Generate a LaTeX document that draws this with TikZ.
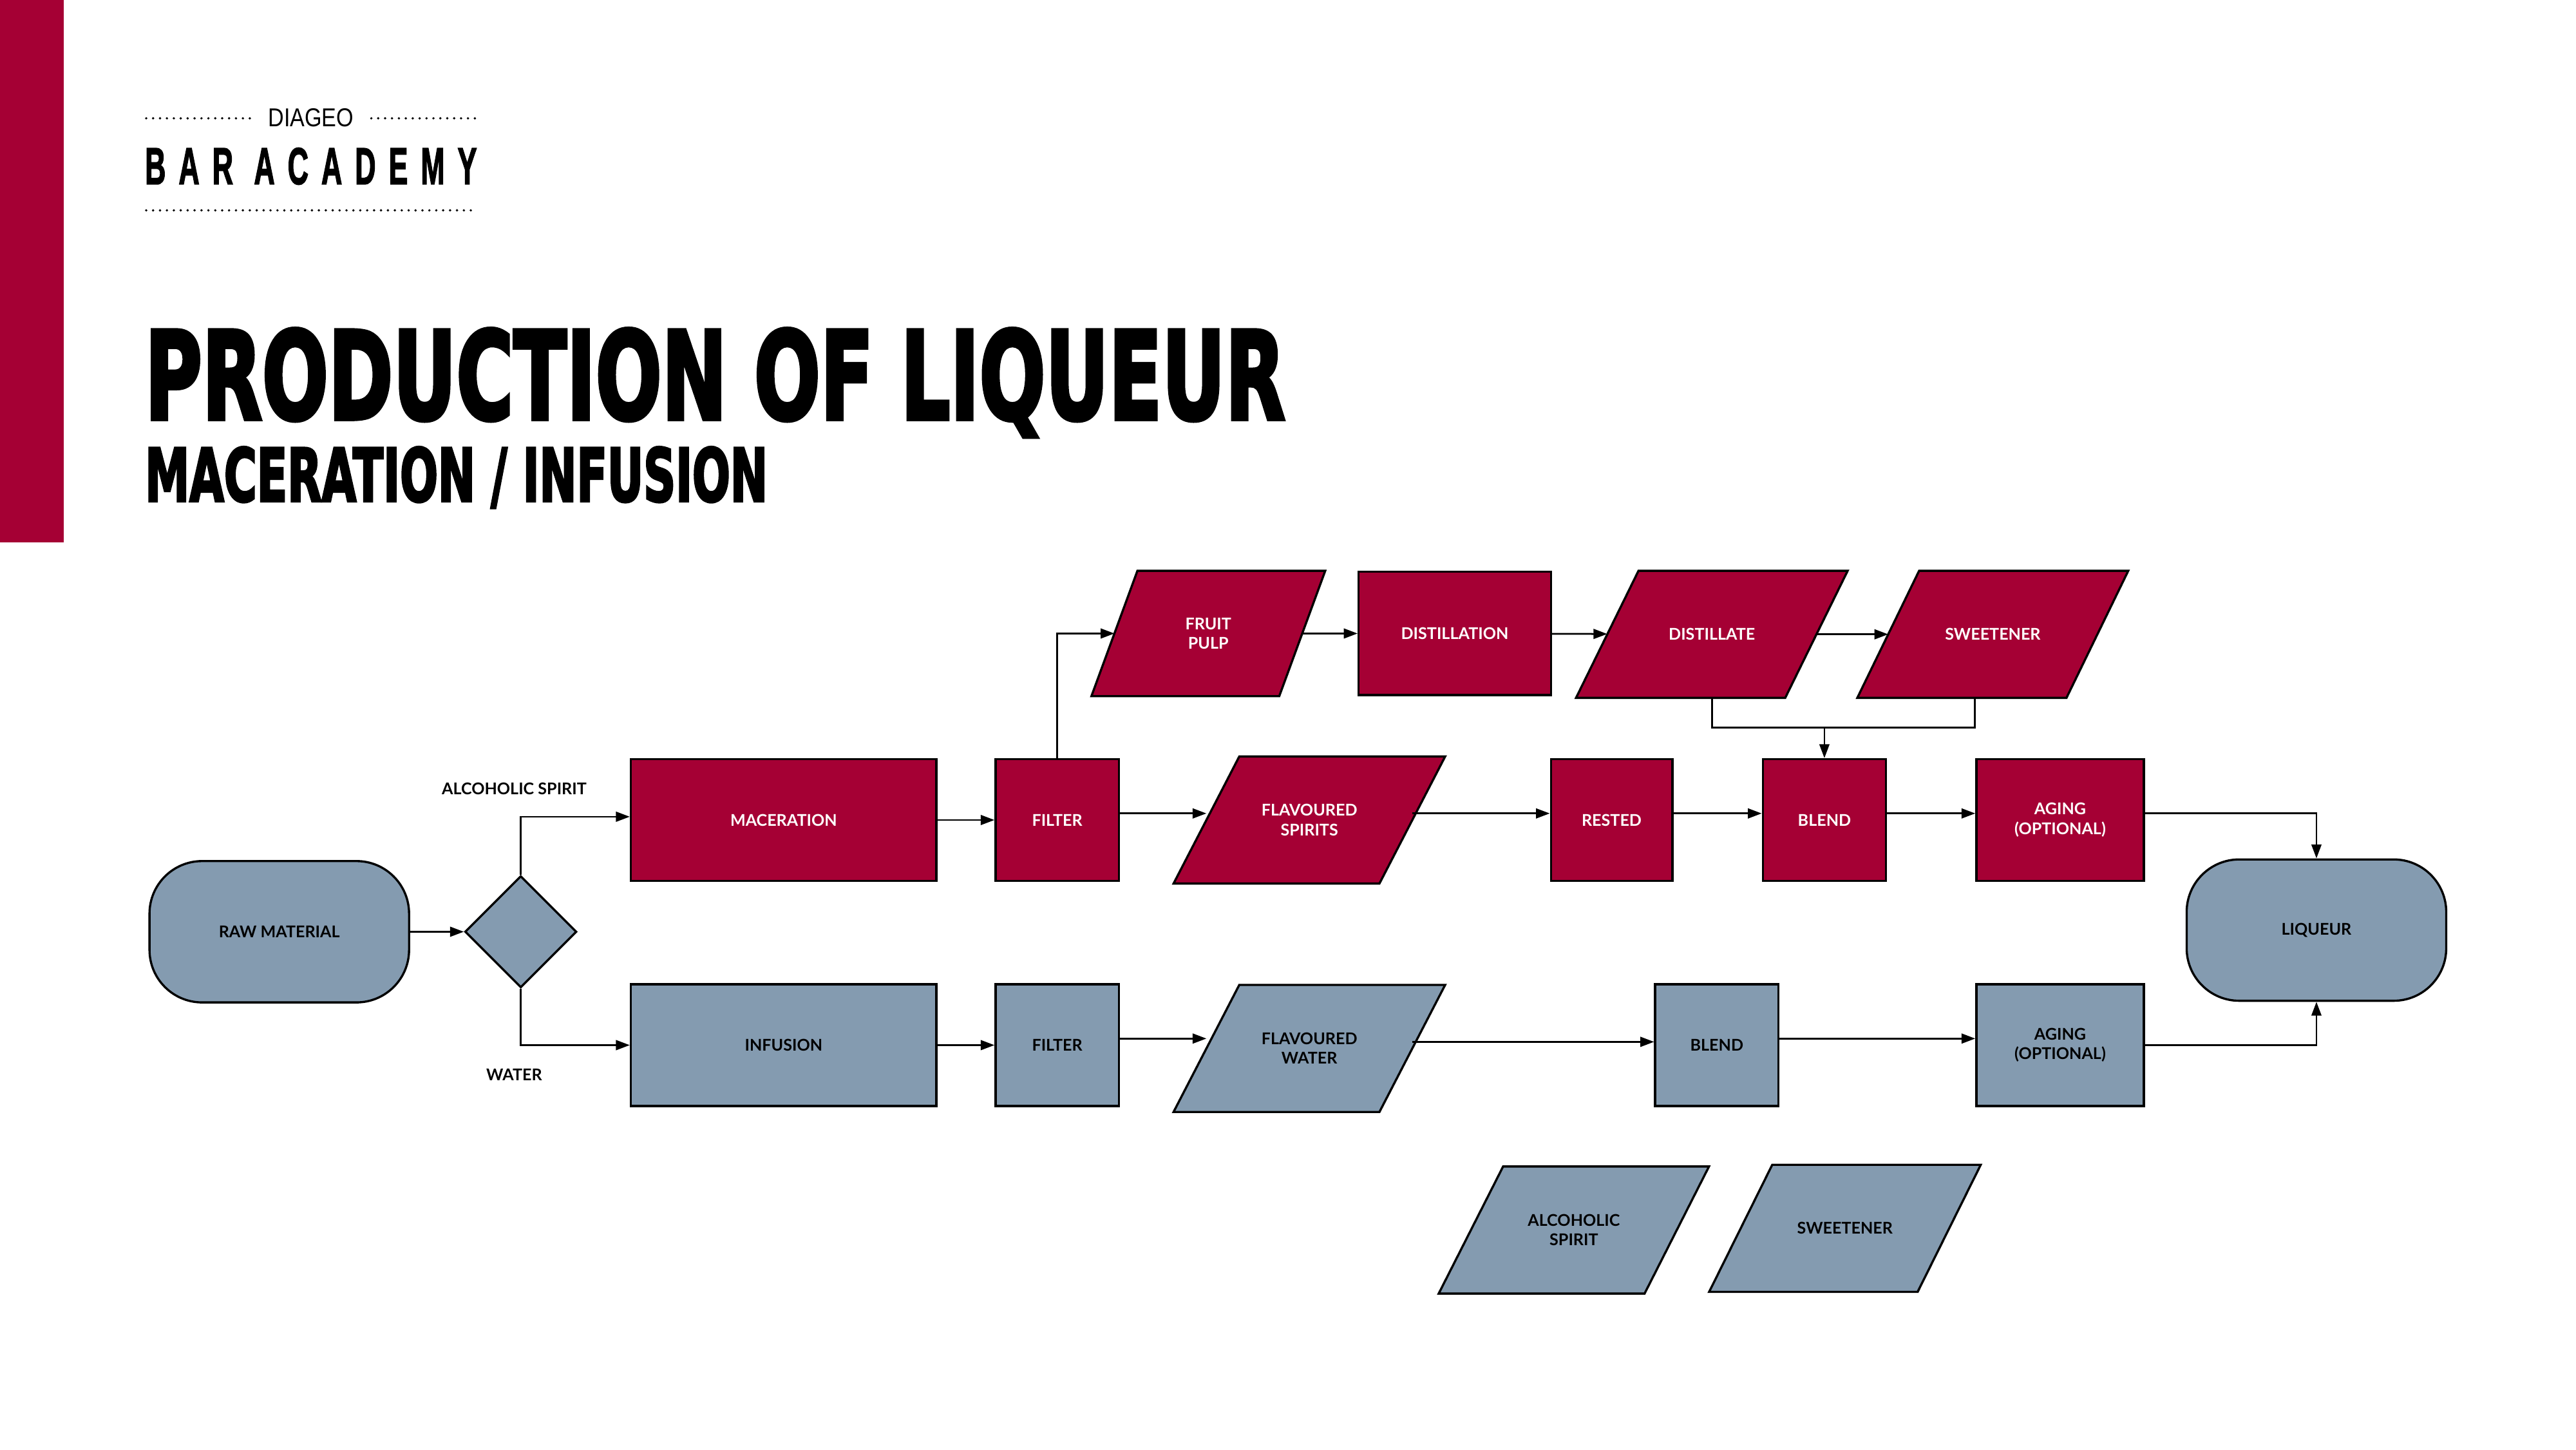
\documentclass[tikz,border=0pt]{standalone}
\usepackage{fontspec}
\setmainfont{Lato}
\newfontfamily\titlefont[FakeBold=3.5]{DejaVu Sans}
\newfontfamily\logofont{Liberation Sans}
\newfontfamily\barfont[LetterSpace=45, FakeBold=2.5]{Liberation Sans}
\usetikzlibrary{shapes.geometric,arrows.meta}
\definecolor{dgred}{RGB}{165,0,52}
\definecolor{dgblue}{RGB}{132,155,176}
\newcommand\lbl{\fontsize{7}{8.5}\selectfont\bfseries}
\newcommand\slantoff{5mm}
\makeatletter
\pgfdeclareshape{slantbox}{
  \inheritsavedanchors[from=rectangle]
  \inheritanchorborder[from=rectangle]
  \inheritanchor[from=rectangle]{center}
  \inheritanchor[from=rectangle]{north}
  \inheritanchor[from=rectangle]{south}
  \inheritanchor[from=rectangle]{east}
  \inheritanchor[from=rectangle]{west}
  \inheritanchor[from=rectangle]{text}
  \inheritanchor[from=rectangle]{base}
  \backgroundpath{
    \pgfmathsetlength\pgf@xc{\slantoff}
    \southwest \pgf@xa=\pgf@x \pgf@ya=\pgf@y
    \northeast \pgf@xb=\pgf@x \pgf@yb=\pgf@y
    \pgfpathmoveto{\pgfqpoint{\dimexpr\pgf@xa-\pgf@xc}{\pgf@ya}}
    \pgfpathlineto{\pgfqpoint{\dimexpr\pgf@xb-\pgf@xc}{\pgf@ya}}
    \pgfpathlineto{\pgfqpoint{\dimexpr\pgf@xb+\pgf@xc}{\pgf@yb}}
    \pgfpathlineto{\pgfqpoint{\dimexpr\pgf@xa+\pgf@xc}{\pgf@yb}}
    \pgfpathclose
  }
}
\makeatother
\tikzset{
  redbox/.style={draw, line width=0.33mm, fill=dgred, text=white, font=\lbl,
    minimum height=18.5mm, inner sep=0pt, align=center},
  bluebox/.style={redbox, fill=dgblue, text=black},
  paral/.style={shape=slantbox, minimum height=19mm, minimum width=31mm},
  slant off/.code={\renewcommand\slantoff{#1}},
  endbox/.style={bluebox, rounded corners=8mm, minimum width=39.5mm, minimum height=21.5mm},
  lab/.style={font=\lbl, inner sep=0pt},
  conn/.style={line width=0.27mm, -{Triangle[length=2.1mm,width=1.5mm]}},
  dots/.style={line width=1.1pt, line cap=round, dash pattern=on 0pt off 2.99pt},
}
\begin{document}
\begin{tikzpicture}[x=0.25mm, y=-0.25mm]
\useasboundingbox (0,0) rectangle (1568,882);
\fill[dgred] (0,0) rectangle (39,330); % 左侧色条
% 标题
\draw[dots] (89,72) -- (153,72);
\draw[dots] (226,72) -- (290,72);
\draw[dots] (89,128) -- (290,128);
\node[anchor=base west, inner sep=0pt] (diageo) at (163,77) {\resizebox{13mm}{2.75mm}{\logofont DIAGEO}};
\node[anchor=base west, inner sep=0pt] (academy) at (88,112) {\resizebox{50.5mm}{5.5mm}{\barfont\bfseries BAR ACADEMY}};
\node[anchor=base west, inner sep=0pt] (title) at (88,255) {\resizebox{173.5mm}{13.75mm}{\titlefont\bfseries PRODUCTION OF LIQUEUR}};
\node[anchor=base west, inner sep=0pt] (subtitle) at (88,305) {\resizebox{94.75mm}{8.25mm}{\titlefont\bfseries MACERATION / INFUSION}};
% 起点与分支
\node[endbox] (raw) at (170,567) {RAW MATERIAL};
\node[diamond, draw, line width=0.33mm, fill=dgblue, minimum width=17mm, minimum height=17mm, inner sep=0pt] (dia) at (317,567) {};
\node[lab] (lblspirit) at (313,480) {ALCOHOLIC SPIRIT};
\node[lab] (lblwater) at (313,654) {WATER};
% 上排 (红)
\node[redbox, minimum width=46.5mm] (mac) at (477,499) {MACERATION};
\node[redbox, minimum width=18.75mm] (filA) at (643.5,499) {FILTER};
\node[redbox, paral] (flavS) at (797,499) {FLAVOURED\\SPIRITS};
\node[redbox, minimum width=18.5mm] (rest) at (981,499) {RESTED};
\node[redbox, minimum width=18.75mm] (blendA) at (1110.5,499) {BLEND};
\node[redbox, minimum width=25.5mm] (agingA) at (1254,499) {AGING\\(OPTIONAL)};
\node[redbox, paral, slant off=3.5mm, minimum width=28.25mm, minimum height=18.75mm] (pulp) at (735.5,385.5) {FRUIT\\PULP};
\node[redbox, minimum width=29.25mm, minimum height=18.75mm] (distn) at (885.5,385.5) {DISTILLATION};
\node[redbox, paral, slant off=4.75mm, minimum width=31.5mm] (distl) at (1042,386) {DISTILLATE};
\node[redbox, paral, slant off=4.7mm, minimum width=31.5mm] (sweetA) at (1213,386) {SWEETENER};
% 下排 (蓝)
\node[bluebox, minimum width=46.5mm] (inf) at (477,636) {INFUSION};
\node[bluebox, minimum width=18.75mm] (filB) at (643.5,636) {FILTER};
\node[bluebox, paral] (flavW) at (797,638) {FLAVOURED\\WATER};
\node[bluebox, minimum width=18.75mm] (blendB) at (1045,636) {BLEND};
\node[bluebox, minimum width=25.5mm] (agingB) at (1254,636) {AGING\\(OPTIONAL)};
\node[bluebox, paral, slant off=4.9mm] (spirit) at (958,748.5) {ALCOHOLIC\\SPIRIT};
\node[bluebox, paral, slant off=4.8mm, minimum width=31.4mm] (sweetB) at (1123,747.5) {SWEETENER};
\node[endbox] (liq) at (1410,566) {LIQUEUR};
% 连线
\draw[conn] (raw) -- (dia);
\draw[conn] (dia.north) |- ([yshift=0.5mm]mac.west);
\draw[conn] (dia.south) |- (inf.west);
\foreach \a/\b in {mac/filA, pulp/distn, distn/distl, distl/sweetA, inf/filB} {
    \draw[conn] (\a) -- (\b);
}
\foreach \a/\b in {filA/flavS, flavS/rest, rest/blendA, blendA/agingA,
  filB/flavW, flavW/blendB, blendB/agingB} {
    \draw[conn] ([yshift=1mm]\a.east) -- ([yshift=1mm]\a.east -| \b.west);
}
\draw[conn] (filA.north) |- (pulp.west);
\draw[line width=0.27mm] (distl.south) -- ++(0,18) coordinate (bar) -| ([xshift=-2.75mm]sweetA.south);
\draw[conn] (bar -| blendA.north) -- (blendA.north);
\draw[conn] ([yshift=1mm]agingA.east) -| (liq.north);
\draw[conn] (agingB.east) -| (liq.south);
\end{tikzpicture}
\end{document}
